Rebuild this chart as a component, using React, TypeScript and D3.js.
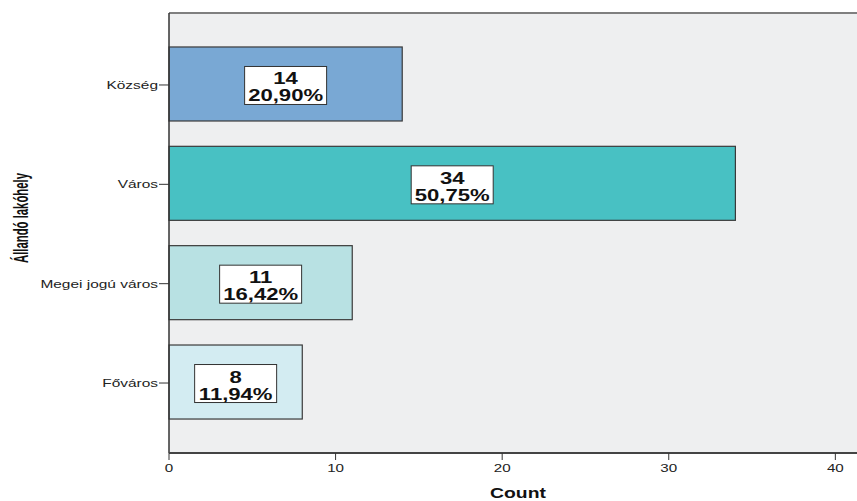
import React from "react";
import * as d3 from "d3";

const categories = ["Község", "Város", "Megei jogú város", "Főváros"];
const counts = [14, 34, 11, 8];
const percents = ["20,90%", "50,75%", "16,42%", "11,94%"];
const colors = ["#79a8d4", "#48c1c3", "#b8e1e3", "#d3ecf2"];
const xTicks = [0, 10, 20, 30, 40];

const W = 857, H = 501;
const left = 169, top = 13, bottom = 453;
const SX = 1.38;

export default function App() {
  const x = d3.scaleLinear().domain([0, 41.3]).range([left, W]);
  const y = d3.scaleBand<string>().domain(categories).range([top, bottom]).paddingInner(0.255).paddingOuter(0.342);
  const font = "Arial, 'Liberation Sans', sans-serif";
  return (
    <svg width={W} height={H} style={{ position: "absolute", left: 0, top: 0, background: "#fff" }}>
      <rect x={left} y={top} width={W - left} height={bottom - top} fill="#eeeff0" />
      <line x1={left} x2={W} y1={top} y2={top} stroke="#7f7f7f" strokeWidth={2} />
      {categories.map((c, i) => (
        <rect key={c} x={x(0)} y={y(c)!} width={x(counts[i]) - x(0)} height={y.bandwidth()} fill={colors[i]} stroke="#3a3a3a" strokeWidth={1.2} />
      ))}
      {categories.map((c, i) => {
        const cx = x(counts[i] / 2);
        const cy = y(c)! + y.bandwidth() / 2 + 1.5;
        const bw = 82;
        return (
          <g key={c + "l"}>
            <rect x={cx - bw / 2} y={cy - 19} width={bw} height={38} fill="#fff" stroke="#333" strokeWidth={1} />
            <text transform={`translate(${cx},${cy - 1}) scale(${SX},1)`} textAnchor="middle" fontFamily={font} fontWeight="bold" fontSize={16} fill="#111">{counts[i]}</text>
            <text transform={`translate(${cx},${cy + 16}) scale(${SX},1)`} textAnchor="middle" fontFamily={font} fontWeight="bold" fontSize={16} fill="#111">{percents[i]}</text>
          </g>
        );
      })}
      <line x1={left} x2={left} y1={top} y2={bottom} stroke="#333" strokeWidth={1.5} />
      <line x1={left} x2={W} y1={bottom} y2={bottom} stroke="#444" strokeWidth={2} />
      {categories.map((c) => {
        const cy = y(c)! + y.bandwidth() / 2 + 1;
        return (
          <g key={c + "t"}>
            <line x1={left - 10} x2={left} y1={cy} y2={cy} stroke="#333" strokeWidth={1} />
            <text transform={`translate(${left - 11},${cy + 4}) scale(${SX},1)`} textAnchor="end" fontFamily={font} fontSize={11.2} fill="#222">{c}</text>
          </g>
        );
      })}
      {xTicks.map((t) => (
        <g key={t}>
          <line x1={x(t)} x2={x(t)} y1={bottom} y2={bottom + 7} stroke="#333" strokeWidth={1} />
          <text transform={`translate(${x(t)},${bottom + 19}) scale(${SX},1)`} textAnchor="middle" fontFamily={font} fontSize={11} fill="#222">{t}</text>
        </g>
      ))}
      <text transform={`translate(518,498) scale(${SX},1)`} textAnchor="middle" fontFamily={font} fontWeight="bold" fontSize={14} fill="#111">Count</text>
      <text transform={`translate(28,218) scale(1.3,1) rotate(-90)`} textAnchor="middle" textLength={90} lengthAdjust="spacingAndGlyphs" fontFamily="'Liberation Sans Narrow', 'Arial Narrow', sans-serif" fontWeight="bold" fontSize={15} fill="#111">Állandó lakóhely</text>
    </svg>
  );
}
